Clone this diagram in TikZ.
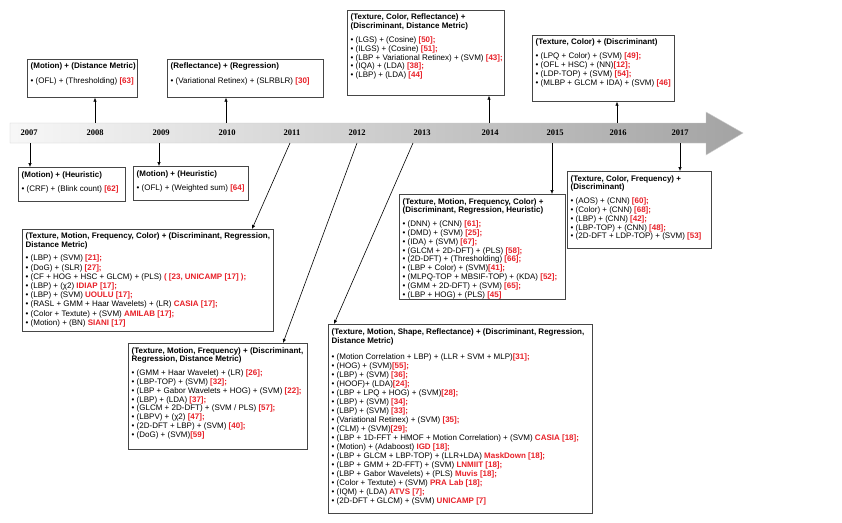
\documentclass[tikz,border=0pt]{standalone}
\usepackage{fontspec}
\setmainfont{Liberation Sans}
\newfontfamily\yearfont{Liberation Serif}
\usetikzlibrary{positioning}
\usetikzlibrary{calc, arrows.meta}
\definecolor{refred}{RGB}{232,32,40}
\definecolor{framegray}{RGB}{70,70,70}
\newcommand{\refc}[1]{\textcolor{refred}{\textbf{#1}}}

\tikzset{
  frame/.style={draw=framegray, line width=0.7pt, fill=white, anchor=north west, inner sep=0pt},
  txt/.style={anchor=north west, inner sep=0pt, align=left, font=\fontsize{8}{8.8}\selectfont},
  yearlbl/.style={font=\yearfont\bfseries\fontsize{8.5}{9}\selectfont},
  tick/.style={-{Latex[length=4pt,width=3.5pt]}, line width=0.6pt}
}

\begin{document}
\begin{tikzpicture}[x=1pt, y=-1pt]
    % Page
    \fill[white] (0,0) rectangle (842,522);
    \useasboundingbox (0,0) rectangle (842,522);

    % Time line
    \shade[left color=gray!6, right color=gray!72, draw=gray!40, line width=0.4pt]
        (10,123) -- (706,123) -- (706,112) -- (743,133) -- (706,155) -- (706,143) -- (10,143) -- cycle;
    \foreach \yr/\xx in {2007/29, 2008/95, 2009/161, 2010/227, 2011/292, 2012/357,
                         2013/422, 2014/490, 2015/555, 2016/618, 2017/680}
        \node[yearlbl] (y\yr) at (\xx,133) {\yr};

    % Tick points on the bar
    \foreach \yr/\xx in {2008/95, 2010/226, 2014/489, 2016/617}
        \coordinate (s\yr) at (\xx,123);
    \foreach \yr/\xx in {2007/30, 2009/159, 2011/290, 2012/357, 2013/413, 2015/552, 2017/680}
        \coordinate (s\yr) at (\xx,143);

    % Boxes above the line
    \node[frame, minimum width=110pt, minimum height=38pt] (bMD) at (27,59) {};
    \node[txt] (tMD) at ([xshift=3.5pt,yshift=-4pt]bMD.north west)
        {\textbf{(Motion) + (Distance Metric)}\\[6pt]
         • (OFL) + (Thresholding) \refc{[63]}};

    \node[frame, minimum width=156pt, minimum height=38pt] (bRR) at (167,59) {};
    \node[txt] (tRR) at ([xshift=3.5pt,yshift=-4pt]bRR.north west)
        {\textbf{(Reflectance) + (Regression)}\\[6pt]
         • (Variational Retinex) + (SLRBLR) \refc{[30]}};

    \node[frame, minimum width=157pt, minimum height=85pt] (bTCR) at (347,10) {};
    \node[txt] (tTCR) at ([xshift=3.5pt,yshift=-4pt]bTCR.north west)
        {\textbf{(Texture, Color, Reflectance) +}\\
         \textbf{(Discriminant, Distance Metric)}\\[5pt]
         • (LGS) + (Cosine) \refc{[50];}\\
         • (ILGS) + (Cosine) \refc{[51];}\\
         • (LBP + Variational Retinex) + (SVM) \refc{[43];}\\
         • (IQA) + (LDA) \refc{[38];}\\
         • (LBP) + (LDA) \refc{[44]}};

    \node[frame, minimum width=142pt, minimum height=66pt] (bTCD) at (532,35) {};
    \node[txt] (tTCD) at ([xshift=3.5pt,yshift=-4pt]bTCD.north west)
        {\textbf{(Texture, Color) + (Discriminant)}\\[5pt]
         • (LPQ + Color) + (SVM) \refc{[49];}\\
         • (OFL + HSC) + (NN)\refc{[12];}\\
         • (LDP-TOP) + (SVM) \refc{[54];}\\
         • (MLBP + GLCM + IDA) + (SVM) \refc{[46]}};

    % Boxes below the line
    \node[frame, minimum width=107pt, minimum height=34pt] (bMH1) at (18,167) {};
    \node[txt] (tMH1) at ([xshift=3.5pt,yshift=-4pt]bMH1.north west)
        {\textbf{(Motion) + (Heuristic)}\\[6pt]
         • (CRF) + (Blink count) \refc{[62]}};

    \node[frame, minimum width=115pt, minimum height=34pt] (bMH2) at (133,166) {};
    \node[txt] (tMH2) at ([xshift=3.5pt,yshift=-4pt]bMH2.north west)
        {\textbf{(Motion) + (Heuristic)}\\[6pt]
         • (OFL) + (Weighted sum) \refc{[64]}};

    \node[frame, minimum width=251pt, minimum height=102pt] (bTMFC1) at (22,229) {};
    \node[txt, font=\fontsize{8}{9.2}\selectfont] (tTMFC1) at ([xshift=3.5pt,yshift=-3.5pt]bTMFC1.north west)
        {\textbf{(Texture, Motion, Frequency, Color) + (Discriminant, Regression,}\\
         \textbf{Distance Metric)}\\[4pt]
         • (LBP) + (SVM) \refc{[21];}\\
         • (DoG) + (SLR) \refc{[27];}\\
         • (CF + HOG + HSC + GLCM) + (PLS) \refc{( [23, UNICAMP [17] );}\\
         • (LBP) + (χ2) \refc{IDIAP [17];}\\
         • (LBP) + (SVM) \refc{UOULU [17];}\\
         • (RASL + GMM + Haar Wavelets) + (LR) \refc{CASIA [17];}\\
         • (Color + Textute) + (SVM) \refc{AMILAB [17];}\\
         • (Motion) + (BN) \refc{SIANI [17]}};

    \node[frame, minimum width=179pt, minimum height=106pt] (bTMF) at (128,343) {};
    \node[txt] (tTMF) at ([xshift=3.5pt,yshift=-4pt]bTMF.north west)
        {\textbf{(Texture, Motion, Frequency) + (Discriminant,}\\
         \textbf{Regression, Distance Metric)}\\[5pt]
         • (GMM + Haar Wavelet) + (LR) \refc{[26];}\\
         • (LBP-TOP) + (SVM) \refc{[32];}\\
         • (LBP + Gabor Wavelets + HOG) + (SVM) \refc{[22];}\\
         • (LBP) + (LDA) \refc{[37];}\\
         • (GLCM + 2D-DFT) + (SVM / PLS) \refc{[57];}\\
         • (LBPV) + (χ2) \refc{[47];}\\
         • (2D-DFT + LBP) + (SVM) \refc{[40];}\\
         • (DoG) + (SVM)\refc{[59]}};

    \node[frame, minimum width=264pt, minimum height=189pt] (bTMSR) at (328,324) {};
    \node[txt, font=\fontsize{8}{9}\selectfont] (tTMSR) at ([xshift=3.5pt,yshift=-4pt]bTMSR.north west)
        {\textbf{(Texture, Motion, Shape, Reflectance) + (Discriminant, Regression,}\\
         \textbf{Distance Metric)}\\[7pt]
         • (Motion Correlation + LBP) + (LLR + SVM + MLP)\refc{[31];}\\
         • (HOG) + (SVM)\refc{[55];}\\
         • (LBP) + (SVM) \refc{[36];}\\
         • (HOOF)+ (LDA)\refc{[24];}\\
         • (LBP + LPQ + HOG) + (SVM)\refc{[28];}\\
         • (LBP) + (SVM) \refc{[34];}\\
         • (LBP) + (SVM) \refc{[33];}\\
         • (Variational Retinex) + (SVM) \refc{[35];}\\
         • (CLM) + (SVM)\refc{[29];}\\
         • (LBP + 1D-FFT + HMOF + Motion Correlation) + (SVM) \refc{CASIA [18];}\\
         • (Motion) + (Adaboost) \refc{IGD [18];}\\
         • (LBP + GLCM + LBP-TOP) + (LLR+LDA) \refc{MaskDown [18];}\\
         • (LBP + GMM + 2D-FFT) + (SVM) \refc{LNMIIT [18];}\\
         • (LBP + Gabor Wavelets) + (PLS) \refc{Muvis [18];}\\
         • (Color + Textute) + (SVM) \refc{PRA Lab [18];}\\
         • (IQM) + (LDA) \refc{ATVS [7];}\\
         • (2D-DFT + GLCM) + (SVM) \refc{UNICAMP [7]}};

    \node[frame, minimum width=166pt, minimum height=105pt] (bTMFC2) at (399,194) {};
    \node[txt] (tTMFC2) at ([xshift=3.5pt,yshift=-4pt]bTMFC2.north west)
        {\textbf{(Texture, Motion, Frequency, Color) +}\\
         \textbf{(Discriminant, Regression, Heuristic)}\\[5pt]
         • (DNN) + (CNN) \refc{[61];}\\
         • (DMD) + (SVM) \refc{[25];}\\
         • (IDA) + (SVM) \refc{[67];}\\
         • (GLCM + 2D-DFT) + (PLS) \refc{[58];}\\
         • (2D-DFT) + (Thresholding) \refc{[66];}\\
         • (LBP + Color) + (SVM)\refc{[41];}\\
         • (MLPQ-TOP + MBSIF-TOP) + (KDA) \refc{[52];}\\
         • (GMM + 2D-DFT) + (SVM) \refc{[65];}\\
         • (LBP + HOG) + (PLS) \refc{[45]}};

    \node[frame, minimum width=144pt, minimum height=77pt] (bTCF) at (567,171) {};
    \node[txt] (tTCF) at ([xshift=3.5pt,yshift=-4pt]bTCF.north west)
        {\textbf{(Texture, Color, Frequency) +}\\
         \textbf{(Discriminant)}\\[5pt]
         • (AOS) + (CNN) \refc{[60];}\\
         • (Color) + (CNN) \refc{[68];}\\
         • (LBP) + (CNN) \refc{[42];}\\
         • (LBP-TOP) + (CNN) \refc{[48];}\\
         • (2D-DFT + LDP-TOP) + (SVM) \refc{[53]}};

    % Arrows from the years to the boxes
    \draw[tick] (s2008) -- (s2008 |- bMD.south);
    \draw[tick] (s2010) -- (s2010 |- bRR.south);
    \draw[tick] (s2014) -- (s2014 |- bTCR.south);
    \draw[tick] (s2016) -- (s2016 |- bTCD.south);
    \draw[tick] (s2007) -- (s2007 |- bMH1.north);
    \draw[tick] (s2009) -- (s2009 |- bMH2.north);
    \draw[tick] (s2011) -- ([xshift=230pt]bTMFC1.north west);
    \draw[tick] (s2012) -- ([xshift=155pt]bTMF.north west);
    \draw[tick] (s2013) -- ([xshift=6pt]bTMSR.north west);
    \draw[tick] (s2015) -- (s2015 |- bTMFC2.north);
    \draw[tick] (s2017) -- (s2017 |- bTCF.north);
\end{tikzpicture}
\end{document}
